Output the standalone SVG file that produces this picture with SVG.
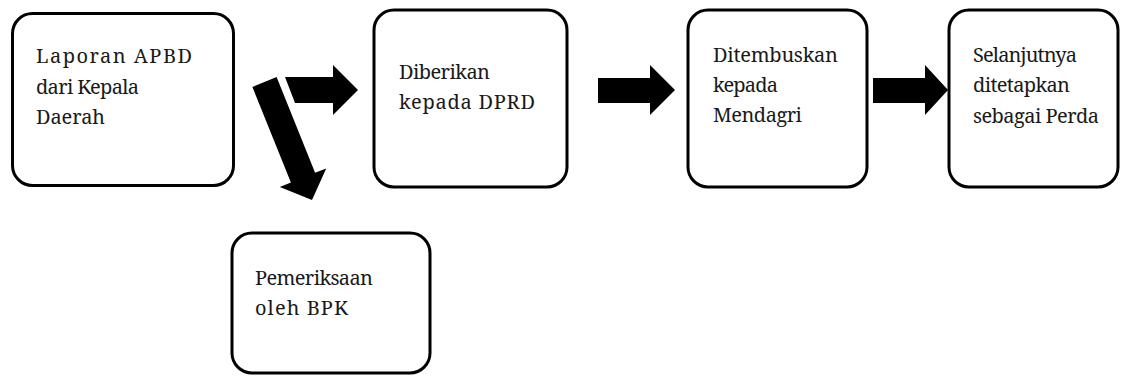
<svg xmlns="http://www.w3.org/2000/svg" width="1121" height="376" viewBox="0 0 1121 376">
<style>
.box{fill:#fff;stroke:#000;stroke-width:3}
.t{font-family:"Noto Serif","Liberation Serif","DejaVu Serif",serif;font-size:20px;fill:#1a1a1a}
.arr{fill:#000}
</style>
<rect width="1121" height="376" fill="#fff"/>
<g id="connectors">
<polygon class="arr" points="252.4,86.9 276.6,77.1 315.1,172.8 326.2,168.4 312,200 279.8,187 290.9,182.6"/>
<polygon class="arr" points="285,77 333,77 333,65 358,90 333,115 333,103 295,103"/>
<polygon class="arr" points="598,78 650,78 650,65 675,90 650,115 650,103 598,103"/>
<polygon class="arr" points="873,78 925,78 925,65 948,90 925,115 925,103 873,103"/>
</g>
<g id="node1">
<rect class="box" x="12.5" y="13.5" width="221" height="172" rx="20"/>
<text class="t" x="36" y="63" textLength="156" lengthAdjust="spacing">Laporan APBD</text>
<text class="t" x="36" y="94" textLength="103" lengthAdjust="spacing">dari Kepala</text>
<text class="t" x="36" y="124" textLength="69" lengthAdjust="spacing">Daerah</text>
</g>
<g id="node2">
<rect class="box" x="374" y="10" width="193" height="177" rx="20"/>
<text class="t" x="399" y="79" textLength="91" lengthAdjust="spacing">Diberikan</text>
<text class="t" x="399" y="109" textLength="136" lengthAdjust="spacing">kepada DPRD</text>
</g>
<g id="node3">
<rect class="box" x="688" y="10" width="179" height="177" rx="20"/>
<text class="t" x="713" y="62" textLength="125" lengthAdjust="spacing">Ditembuskan</text>
<text class="t" x="713" y="92" textLength="65" lengthAdjust="spacing">kepada</text>
<text class="t" x="713" y="122" textLength="89" lengthAdjust="spacing">Mendagri</text>
</g>
<g id="node4">
<rect class="box" x="949" y="10" width="169" height="177" rx="20"/>
<text class="t" x="973" y="62" textLength="104" lengthAdjust="spacing">Selanjutnya</text>
<text class="t" x="973" y="92" textLength="97" lengthAdjust="spacing">ditetapkan</text>
<text class="t" x="973" y="123" textLength="126" lengthAdjust="spacing">sebagai Perda</text>
</g>
<g id="node5">
<rect class="box" x="232" y="233" width="198" height="140" rx="20"/>
<text class="t" x="255" y="285" textLength="118" lengthAdjust="spacing">Pemeriksaan</text>
<text class="t" x="255" y="315" textLength="93" lengthAdjust="spacing">oleh BPK</text>
</g>
</svg>
